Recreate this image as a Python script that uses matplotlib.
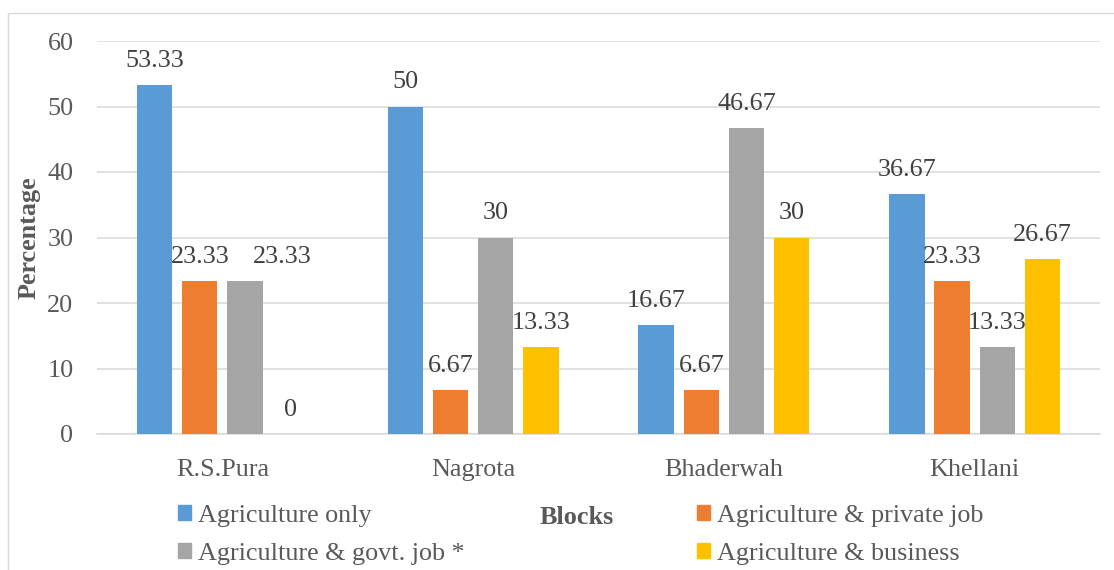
import matplotlib
matplotlib.use("Agg")
import matplotlib.pyplot as plt
from matplotlib.patches import Patch, Rectangle
import numpy as np

blocks = ["R.S.Pura", "Nagrota", "Bhaderwah", "Khellani"]
series_names = ["Agriculture only", "Agriculture & private job",
                "Agriculture & govt. job *", "Agriculture & business"]
agri_only = [53.33, 50, 16.67, 36.67]
agri_private = [23.33, 6.67, 6.67, 23.33]
agri_govt = [23.33, 30, 46.67, 13.33]
agri_business = [0, 13.33, 30, 26.67]
y_ticks = [0, 10, 20, 30, 40, 50, 60]

colors = ["#5B9BD5", "#ED7D31", "#A5A5A5", "#FFC000"]
series = [agri_only, agri_private, agri_govt, agri_business]

# label nudges (series index, block index) -> x offset in points, to avoid collisions
label_nudge = {(2, 0): 27}

plt.rcParams['font.family'] = ['Liberation Serif', 'DejaVu Serif']
FS = 18.8

W, H = 1114, 570
fig = plt.figure(figsize=(W / 100, H / 100), dpi=100)
ax = fig.add_axes([97 / W, 1 - 434 / H, (1100 - 97) / W, (434 - 41) / H])

x = np.arange(len(blocks))
pitch = 0.18
width = 0.141
handles = []
for i, (vals, c, name) in enumerate(zip(series, colors, series_names)):
    pos = x + (i - 1.5) * pitch
    bars = ax.bar(pos, vals, width, color=c, label=name, zorder=3)
    for j, (b, v) in enumerate(zip(bars, vals)):
        dx = label_nudge.get((i, j), 0)
        ax.annotate(f"{v:g}", (b.get_x() + b.get_width() / 2, v),
                    xytext=(dx, 13), textcoords="offset points",
                    ha="center", va="baseline", fontsize=FS, color="#404040")
    handles.append(Patch(facecolor=c, edgecolor=c))

ax.set_xlim(-0.5, len(blocks) - 0.5)
ax.set_ylim(0, 60)
ax.set_yticks(y_ticks)
ax.set_xticks(x)
ax.set_xticklabels(blocks)
ax.tick_params(axis="both", length=0, labelsize=FS, labelcolor="#595959")
ax.tick_params(axis="y", pad=17)
ax.tick_params(axis="x", pad=18)
ax.yaxis.grid(True, color="#d9d9d9", linewidth=1.1, zorder=0)
ax.set_axisbelow(True)
for s in ["top", "right", "left"]:
    ax.spines[s].set_visible(False)
ax.spines["bottom"].set_color("#d9d9d9")
ax.spines["bottom"].set_linewidth(1.1)

ax.set_ylabel("Percentage", fontsize=FS, fontweight="bold", color="#595959")
ax.yaxis.set_label_coords(-0.056, 0.5)
ax.set_xlabel("Blocks", fontsize=FS, fontweight="bold", color="#595959", va="center")
ax.xaxis.set_label_coords((577 - 97) / (1100 - 97), -(517 - 434) / (434 - 41))

order = [0, 2, 1, 3]
leg = fig.legend([handles[k] for k in order], [series_names[k] for k in order],
                 ncol=2, loc="upper left", bbox_to_anchor=(178 / W, 1 - 505 / H),
                 frameon=False, fontsize=FS, borderpad=0, borderaxespad=0,
                 handlelength=0.5, handleheight=0.5, handletextpad=0.28,
                 labelspacing=0.6, columnspacing=8.88, labelcolor="#595959")

fig.patches.append(Rectangle((8 / W, -0.1), 1.2, 1 - 12.7 / H + 0.1,
                             transform=fig.transFigure, fill=False,
                             edgecolor="#d9d9d9", linewidth=1.0))

fig.savefig("out.png", dpi=100)
